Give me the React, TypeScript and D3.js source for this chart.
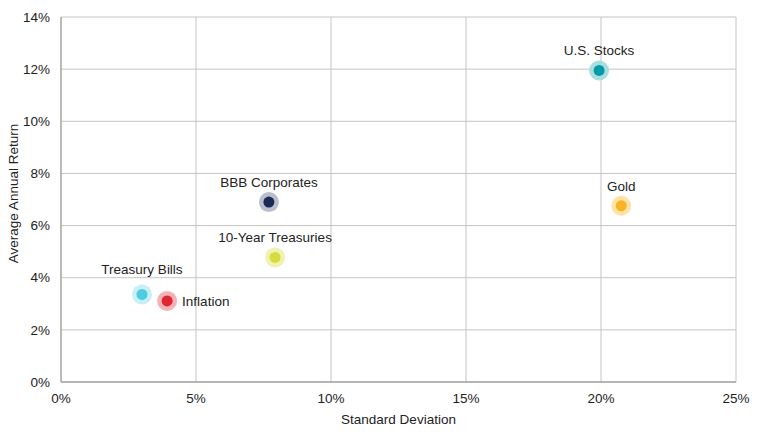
import * as d3 from 'd3';

const assetNames = ['U.S. Stocks', 'Gold', 'BBB Corporates', '10-Year Treasuries', 'Treasury Bills', 'Inflation'];
const stdDev = [19.93, 20.75, 7.7, 7.93, 3.0, 3.93];
const avgReturn = [11.95, 6.76, 6.9, 4.78, 3.36, 3.11];
const dotColors = ['#009ba7', '#fbb326', '#1b2b55', '#d5dc3b', '#4ecce0', '#e1262f'];
const haloColors = ['#a9dde2', '#fde3a6', '#b9bfcc', '#eff2b0', '#c7eff5', '#f5b3b6'];
const labelSide = ['top', 'top', 'top', 'top', 'top-high', 'right'];

const xTicks = [0, 5, 10, 15, 20, 25];
const yTicks = [0, 2, 4, 6, 8, 10, 12, 14];

const W = 768;
const H = 432;
const margin = { top: 17, right: 32, bottom: 50, left: 61 };
const font = 'Arial, "Liberation Sans", sans-serif';
const textColor = '#222';
const fs = 13.5;

export default function App() {
  const x = d3.scaleLinear().domain([0, 25]).range([margin.left, W - margin.right]);
  const y = d3.scaleLinear().domain([0, 14]).range([H - margin.bottom, margin.top]);
  const [x0, x1] = x.range();
  const [y0, y1] = y.range();

  return (
    <svg
      width={W}
      height={H}
      style={{ position: 'absolute', left: 0, top: 0, background: '#fff' }}
      fontFamily={font}
    >
      {/* grid */}
      {xTicks.map(t => (
        <line key={'gx' + t} x1={x(t)} x2={x(t)} y1={y1} y2={y0} stroke="#c4c4c4" strokeWidth={1} />
      ))}
      {yTicks.map(t => (
        <line key={'gy' + t} x1={x0} x2={x1} y1={y(t)} y2={y(t)} stroke="#c4c4c4" strokeWidth={1} />
      ))}
      {/* axes */}
      <line x1={x0} x2={x0} y1={y1} y2={y0} stroke="#a6a6a6" strokeWidth={1.3} />
      <line x1={x0} x2={x1} y1={y0} y2={y0} stroke="#a6a6a6" strokeWidth={1.3} />

      {xTicks.map(t => (
        <text key={'tx' + t} x={x(t)} y={y0 + 21} textAnchor="middle" fontSize={fs} fill={textColor}>
          {t}%
        </text>
      ))}
      {yTicks.map(t => (
        <text key={'ty' + t} x={x0 - 11} y={y(t)} dy="0.35em" textAnchor="end" fontSize={fs} fill={textColor}>
          {t}%
        </text>
      ))}

      <text x={(x0 + x1) / 2} y={424} textAnchor="middle" fontSize={fs} fill={textColor}>
        Standard Deviation
      </text>
      <text
        transform={`translate(18, ${(y0 + y1) / 2 - 6}) rotate(-90)`}
        textAnchor="middle"
        fontSize={fs}
        fill={textColor}
      >
        Average Annual Return
      </text>

      {assetNames.map((name, i) => {
        const cx = x(stdDev[i]);
        const cy = y(avgReturn[i]);
        const side = labelSide[i];
        return (
          <g key={name}>
            <circle cx={cx} cy={cy} r={10} fill={haloColors[i]} />
            <circle cx={cx} cy={cy} r={5.5} fill={dotColors[i]} />
            {side === 'right' ? (
              <text x={cx + 15} y={cy} dy="0.35em" fontSize={fs} fill={textColor}>
                {name}
              </text>
            ) : (
              <text x={cx} y={cy - (side === 'top-high' ? 20 : 15)} textAnchor="middle" fontSize={fs} fill={textColor}>
                {name}
              </text>
            )}
          </g>
        );
      })}
    </svg>
  );
}
